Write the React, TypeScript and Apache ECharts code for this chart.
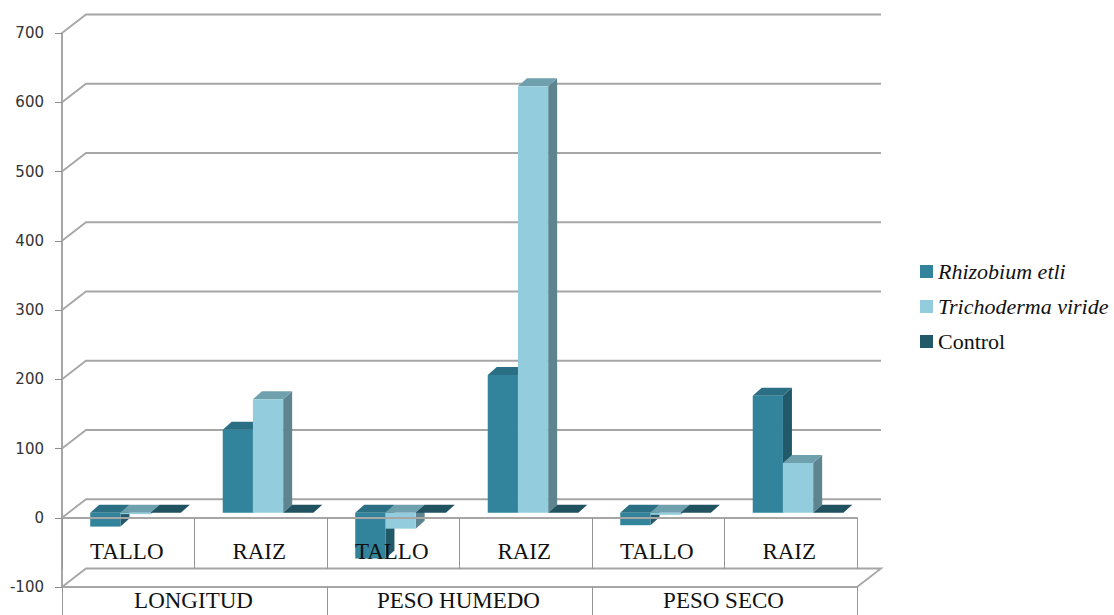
import React, { useEffect, useRef } from "react";
import * as echarts from "echarts";

const subCategories = ["TALLO", "RAIZ", "TALLO", "RAIZ", "TALLO", "RAIZ"];
const groupCategories = ["LONGITUD", "PESO HUMEDO", "PESO SECO"];
const rhizobium = [-20, 120, -66, 199, -18, 169];
const trichoderma = [-2, 164, -23, 616, -3, 72];
const control = [0, 0, 0, 0, 0, 0];
const yTicks = [-100, 0, 100, 200, 300, 400, 500, 600, 700];

const GRAY = "#a6a6a6";
const SERIF = "'Liberation Serif', serif";
const WALL_DX = 24;
const WALL_DY = -18.5;
const BAR_OFF_X = 7.3;
const BAR_OFF_Y = -5;
const DEPTH_X = 9;
const DEPTH_Y = -8;
const BAR_RATIO = 0.228;

type Face = { front: string; top: string; side: string };
const rhizobiumFace: Face = { front: "#31849b", top: "#2a6f84", side: "#215968" };
const trichodermaFace: Face = { front: "#93cddd", top: "#6fa0ae", side: "#5e8490" };
const controlFace: Face = { front: "#215968", top: "#215260", side: "#1b4552" };

function barRenderer(seriesPos: number, face: Face) {
  return (_p: any, api: any) => {
    const idx = api.value(0);
    const v = api.value(1);
    const band = api.size([1, 0])[0];
    const w = band * BAR_RATIO;
    const c = api.coord([idx, 0]);
    const x0 = c[0] - (w * 3) / 2 + w * seriesPos + BAR_OFF_X;
    const x1 = x0 + w;
    const yTop = api.coord([idx, Math.max(v, 0)])[1] + BAR_OFF_Y;
    const yBot = api.coord([idx, Math.min(v, 0)])[1] + BAR_OFF_Y;
    const poly = (points: number[][], fill: string) => ({
      type: "polygon",
      shape: { points },
      style: { fill, stroke: null },
    });
    const children: any[] = [];
    children.push(
      poly(
        [
          [x1, yTop],
          [x1 + DEPTH_X, yTop + DEPTH_Y],
          [x1 + DEPTH_X, yBot + DEPTH_Y],
          [x1, yBot],
        ],
        face.side
      )
    );
    children.push(
      poly(
        [
          [x0, yTop],
          [x0 + DEPTH_X, yTop + DEPTH_Y],
          [x1 + DEPTH_X, yTop + DEPTH_Y],
          [x1, yTop],
        ],
        face.top
      )
    );
    if (yBot - yTop > 0.01) {
      children.push(
        poly(
          [
            [x0, yTop],
            [x1, yTop],
            [x1, yBot],
            [x0, yBot],
          ],
          face.front
        )
      );
    }
    return { type: "group", children };
  };
}

function wallRenderer(_p: any, api: any) {
  const v = api.value(0);
  const left = api.coord([0, v]);
  const band = api.size([1, 0])[0];
  const xL = left[0] - band / 2;
  const xR = left[0] + band * 5.5;
  const y = left[1];
  const points = [
    [xL, y],
    [xL + WALL_DX, y + WALL_DY],
    [xR + WALL_DX, y + WALL_DY],
  ];
  if (v === yTicks[0]) points.push([xR, y]);
  return {
    type: "polyline",
    shape: { points },
    style: { fill: null, stroke: GRAY, lineWidth: 1.8 },
  };
}

const barSeries = (name: string, values: number[], pos: number, face: Face) => ({
  name,
  type: "custom",
  xAxisIndex: 0,
  yAxisIndex: 0,
  z: 2,
  clip: false,
  itemStyle: { color: face.front },
  encode: { x: 0, y: 1 },
  data: values.map((v, i) => [i, v]),
  renderItem: barRenderer(pos, face),
});

export default function App() {
  const ref = useRef<HTMLDivElement>(null);
  useEffect(() => {
    const chart = echarts.init(ref.current!, undefined, { renderer: "svg" });
    chart.setOption({
      animation: false,
      backgroundColor: "#ffffff",
      grid: { left: 62, right: 257, top: 33, bottom: 28, containLabel: false, outerBoundsMode: "none" },
      legend: {
        orient: "vertical",
        left: 920,
        top: 260,
        padding: 0,
        icon: "rect",
        itemWidth: 13,
        itemHeight: 13,
        itemGap: 12,
        textStyle: { fontFamily: SERIF, fontSize: 22, color: "#111111", height: 23, lineHeight: 23 },
        data: [
          { name: "Rhizobium etli", textStyle: { fontStyle: "italic" } },
          { name: "Trichoderma viride", textStyle: { fontStyle: "italic" } },
          { name: "Control" },
        ],
      },
      xAxis: [
        {
          type: "category",
          data: subCategories,
          position: "bottom",
          offset: -69.25,
          z: 5,
          axisLine: { onZero: false, lineStyle: { color: GRAY, width: 2 } },
          axisTick: { show: true, length: 51, alignWithLabel: false, lineStyle: { color: "#969696", width: 1 } },
          axisLabel: { interval: 0, margin: 22, padding: [0, 3, 0, 0], fontFamily: SERIF, fontSize: 23, color: "#111111" },
          splitLine: { show: false },
        },
        {
          type: "category",
          data: groupCategories,
          position: "bottom",
          z: 5,
          axisLine: { onZero: false, lineStyle: { color: GRAY, width: 2 } },
          axisTick: { show: true, length: 28, alignWithLabel: false, lineStyle: { color: "#969696", width: 1 } },
          axisLabel: { interval: 0, margin: 2, padding: [0, 2, 0, 0], fontFamily: SERIF, fontSize: 23, color: "#111111" },
          splitLine: { show: false },
        },
      ],
      yAxis: {
        type: "value",
        min: -100,
        max: 700,
        interval: 100,
        z: 5,
        axisLine: { show: true, onZero: false, lineStyle: { color: GRAY, width: 2 } },
        axisTick: { show: true, length: 7, lineStyle: { color: "#8c8c8c", width: 1 } },
        axisLabel: { margin: 18, padding: [2, 0, 0, 0], fontFamily: "'DejaVu Sans', sans-serif", fontSize: 15, color: "#333333" },
        splitLine: { show: false },
      },
      series: [
        {
          name: "walls",
          type: "custom",
          xAxisIndex: 0,
          yAxisIndex: 0,
          z: 1,
          clip: false,
          silent: true,
          encode: { y: 0 },
          data: yTicks.map((v) => [v]),
          renderItem: wallRenderer,
        },
        barSeries("Rhizobium etli", rhizobium, 0, rhizobiumFace),
        barSeries("Trichoderma viride", trichoderma, 1, trichodermaFace),
        barSeries("Control", control, 2, controlFace),
      ],
    });
    return () => chart.dispose();
  }, []);
  return <div ref={ref} style={{ position: "fixed", left: 0, top: 0, width: 1114, height: 615 }} />;
}
